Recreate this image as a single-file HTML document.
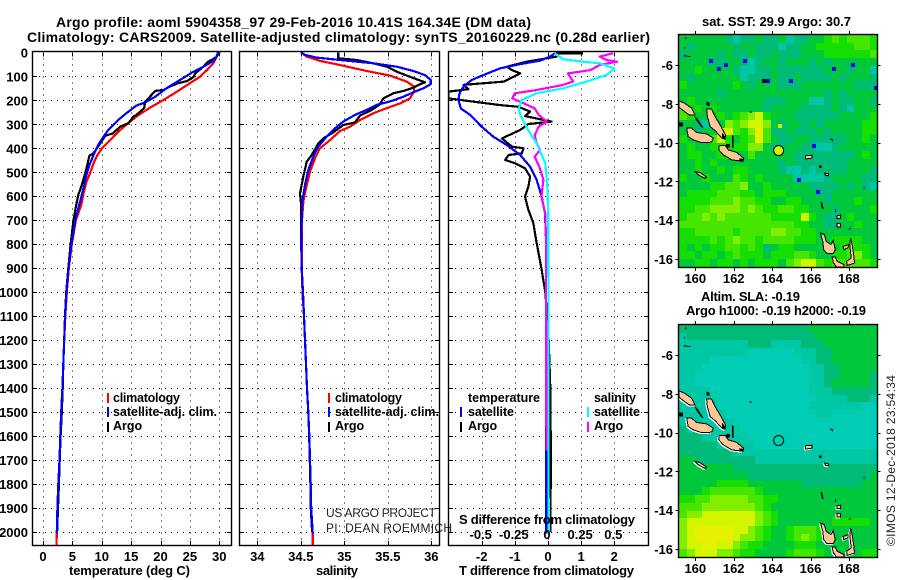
<!DOCTYPE html>
<html lang="en">
<head>
<meta charset="utf-8">
<title>Argo profile aoml 5904358_97</title>
<style>
html,body{margin:0;padding:0;background:#fff;}
#chart{display:block;width:900px;height:580px;}
text{font-family:"Liberation Sans",sans-serif;font-weight:bold;font-size:13px;fill:#000;}
.title{font-size:14px;}
.leg{font-size:12.5px;}
.thin{font-weight:normal;fill:#222;font-size:12px;}
</style>
</head>
<body>
<svg id="chart" xmlns="http://www.w3.org/2000/svg" width="900" height="580" viewBox="0 0 900 580">
  <rect x="0" y="0" width="900" height="580" fill="#fff"/>
  <defs>
    <clipPath id="clip-p1"><rect x="33" y="52" width="198" height="493"/></clipPath>
    <clipPath id="clip-p2"><rect x="240" y="52" width="199" height="493"/></clipPath>
    <clipPath id="clip-p3"><rect x="449" y="52" width="199" height="493"/></clipPath>
    <clipPath id="clip-m1"><rect x="679" y="35" width="198" height="232"/></clipPath>
    <clipPath id="clip-m2"><rect x="679" y="325" width="198" height="232"/></clipPath>
  </defs>
  <text class="title" x="56" y="27" textLength="475" lengthAdjust="spacing">Argo profile: aoml 5904358_97 29-Feb-2016 10.41S 164.34E (DM data)</text>
  <text class="title" x="27" y="42" textLength="623" lengthAdjust="spacing">Climatology: CARS2009. Satellite-adjusted climatology: synTS_20160229.nc (0.28d earlier)</text>
  <g id="layer-panels"></g>
  <g id="layer-maps"></g>

  <text x="69" y="575" textLength="121" lengthAdjust="spacing">temperature (deg C)</text>
  <text x="316" y="575" textLength="42" lengthAdjust="spacing">salinity</text>
  <text x="459" y="575" textLength="175" lengthAdjust="spacing">T difference from climatology</text>
  <text x="459" y="524" textLength="176" lengthAdjust="spacing">S difference from climatology</text>

  <rect x="107" y="393" width="2" height="10" fill="#ff0000"/>
  <rect x="107" y="407" width="2" height="10" fill="#0000ff"/>
  <rect x="107" y="422" width="2" height="10" fill="#000"/>
  <text class="leg" x="113" y="402" textLength="67" lengthAdjust="spacing">climatology</text>
  <text class="leg" x="113" y="416" textLength="104" lengthAdjust="spacing">satellite-adj. clim.</text>
  <text class="leg" x="113" y="430">Argo</text>

  <rect x="328" y="393" width="2" height="10" fill="#ff0000"/>
  <rect x="328" y="407" width="2" height="10" fill="#0000ff"/>
  <rect x="328" y="422" width="2" height="10" fill="#000"/>
  <text class="leg" x="335" y="402" textLength="67" lengthAdjust="spacing">climatology</text>
  <text class="leg" x="335" y="416" textLength="104" lengthAdjust="spacing">satellite-adj. clim.</text>
  <text class="leg" x="335" y="430">Argo</text>

  <text class="thin" x="326" y="517" textLength="110" lengthAdjust="spacing">US ARGO PROJECT</text>
  <text class="thin" x="326" y="532" textLength="126" lengthAdjust="spacing">PI: DEAN ROEMMICH</text>

  <text class="leg" x="468" y="402" textLength="72" lengthAdjust="spacing">temperature</text>
  <text class="leg" x="468" y="416" textLength="46" lengthAdjust="spacing">satellite</text>
  <text class="leg" x="468" y="430">Argo</text>
  <rect x="460" y="407" width="2" height="10" fill="#0000ff"/>
  <rect x="460" y="422" width="2" height="10" fill="#000"/>
  <text class="leg" x="594" y="402" textLength="42" lengthAdjust="spacing">salinity</text>
  <text class="leg" x="594" y="416" textLength="46" lengthAdjust="spacing">satellite</text>
  <text class="leg" x="594" y="430">Argo</text>
  <rect x="587" y="407" width="2" height="10" fill="#00ffff"/>
  <rect x="587" y="422" width="2" height="10" fill="#ff00ff"/>

  <text x="702" y="26" textLength="149" lengthAdjust="spacing">sat. SST: 29.9 Argo: 30.7</text>
  <text x="701" y="301" textLength="99" lengthAdjust="spacing">Altim. SLA: -0.19</text>
  <text x="686" y="315" textLength="180" lengthAdjust="spacing">Argo h1000: -0.19 h2000: -0.19</text>
  <text class="thin" transform="translate(895 546) rotate(-90)" x="0" y="0" textLength="171" lengthAdjust="spacing">©IMOS 12-Dec-2018 23:54:34</text>
</svg>

<script>
// ---- depth tick labels and axis tick values
const depthTicks = [0,100,200,300,400,500,600,700,800,900,1000,1100,1200,1300,1400,1500,1600,1700,1800,1900,2000];
const tempTicks = [0,5,10,15,20,25,30];
const salTicks = [34,34.5,35,35.5,36];
const salTickLabels = ['34','34.5','35','35.5','36'];
const tDiffTicks = [-2,-1,0,1,2];
const sDiffTicks = [-0.5,-0.25,0,0.25,0.5];
const sDiffTickLabels = ['-0.5','-0.25','0','0.25','0.5'];
const lonTicks = [160,162,164,166,168];
const latTicks = [-6,-8,-10,-12,-14,-16];

// ---- temperature profiles
const tempClimDepth = [0,11,46,74,102,129,164,199,231,268,296,324,366,400,435,463,505,539,588,637,700,800,900,1000,1100,1200,1300,1400,1500,1600,1700,1800,1900,2000,2053];
const tempClimValue = [29.8,29.7,29.0,27.9,26.7,25.0,22.8,20.5,18.2,15.9,14.5,13.1,11.4,10.0,9.1,8.6,8.0,7.4,6.9,6.5,5.6,4.9,4.4,4.05,3.8,3.6,3.45,3.3,3.1,2.95,2.8,2.6,2.45,2.35,2.3];
const tempSatDepth = [0,19,36,60,81,111,150,185,209,222,254,282,324,352,386,428,470,511,567,623,700,800,900,1000,1100,1200,1300,1400,1500,1600,1700,1800,1900,2005];
const tempSatValue = [29.8,29.5,29.0,27.3,25.6,23.6,21.0,19.1,17.4,15.9,14.2,12.8,11.1,10.3,9.4,8.6,7.9,7.4,6.9,6.3,5.5,4.85,4.35,4.0,3.75,3.6,3.45,3.3,3.1,2.95,2.8,2.6,2.45,2.4];
const tempArgoDepth = [0,19,28,39,60,88,104,120,129,143,157,161,185,205,233,261,268,296,310,338,348,393,421,431,484,553,595,630,700,800,900,1000,1100,1200,1300,1400,1500,1600,1700,1800,1900,2000];
const tempArgoValue = [30.1,29.5,29,28.1,27.3,25.9,25.6,24.5,23,21.6,20.5,19.1,18.2,17.4,17.2,15.9,15.4,14.5,13.1,11.9,10.6,9.4,8.6,7.9,7.4,6.6,6,5.7,5.2,4.7,4.3,3.95,3.75,3.6,3.45,3.35,3.2,3.0,2.85,2.7,2.55,2.4];

// ---- salinity profiles
const salClimDepth = [0,18,36,53,78,97,122,143,164,192,213,233,254,282,310,328,366,400,442,498,553,623,700,800,900,1000,1100,1200,1300,1400,1500,1600,1700,1800,1900,2000,2053];
const salClimValue = [34.502,34.568,34.721,34.951,35.257,35.525,35.717,35.801,35.801,35.755,35.64,35.487,35.334,35.18,35.065,34.951,34.836,34.721,34.663,34.606,34.568,34.529,34.514,34.51,34.51,34.52,34.537,34.548,34.56,34.571,34.586,34.598,34.606,34.614,34.62,34.637,34.637];
const salSatDepth = [0,11,22,32,46,60,78,95,115,133,150,164,185,205,219,240,261,289,317,352,393,435,491,553,623,700,800,900,1000,1100,1200,1300,1400,1500,1600,1700,1800,1900,2005];
const salSatValue = [34.502,34.548,34.682,34.951,35.334,35.602,35.794,35.928,35.993,35.993,35.909,35.813,35.679,35.525,35.372,35.257,35.123,34.988,34.893,34.797,34.701,34.644,34.586,34.548,34.517,34.51,34.505,34.51,34.525,34.537,34.548,34.56,34.571,34.586,34.598,34.606,34.614,34.62,34.637];
const salArgoDepth = [0,25,32,46,60,81,102,125,133,147,161,171,192,219,240,264,292,303,334,359,380,428,456,518,588,630,700,800,900,1000,1100,1200,1300,1400,1500,1600,1700,1800,1900,2000];
const salArgoValue = [34.931,34.931,35.142,35.334,35.487,35.602,35.755,35.928,35.87,35.794,35.679,35.564,35.449,35.403,35.315,35.18,35.123,34.988,34.874,34.759,34.701,34.625,34.568,34.529,34.491,34.502,34.505,34.505,34.51,34.525,34.537,34.548,34.56,34.571,34.586,34.596,34.604,34.61,34.615,34.63];

// ---- differences from climatology
const tDiffSatDepth = [4,18,35,49,67,95,115,143,171,199,234,261,310,352,387,428,477,532,602,671,782,2005];
const tDiffSatValue = [0.21,0.06,-0.24,-0.84,-1.45,-1.95,-2.3,-2.55,-2.67,-2.7,-2.63,-2.35,-2,-1.65,-1.24,-0.84,-0.54,-0.34,-0.19,-0.09,-0.06,-0.05];
const tDiffArgoDepth = [4,4,18,39,60,74,88,109,122,136,154,164,192,206,220,227,247,266,289,299,324,359,393,400,421,428,449,463,484,518,560,602,657,713,782,900,1000,1100,1200,1400,1600,1800,2000];
const tDiffArgoValue = [1.06,0.26,0.26,-0.64,-1.24,-1.09,-0.84,-1.14,-1.34,-2.55,-2.4,-3.0,-3.0,-2.24,-1.44,-0.89,-0.54,-0.69,0.11,-0.59,-0.84,-1.39,-1.09,-0.74,-0.79,-1.19,-1.29,-0.99,-0.69,-0.54,-0.59,-0.69,-0.59,-0.44,-0.36,-0.2,-0.08,-0.02,0.02,0.07,0.08,0.08,0.07];
const sDiffSatDepth = [4,29,39,46,67,95,122,150,171,199,234,261,324,380,463,560,671,782,2005];
const sDiffSatValue = [0.05,0.115,0.265,0.39,0.5,0.44,0.29,0.115,-0.085,-0.2,-0.22,-0.21,-0.15,-0.085,-0.02,-0.005,0.0025,0.0025,0.005];
const sDiffArgoDepth = [4,18,32,39,53,74,88,122,136,157,171,192,206,234,261,289,310,345,380,407,435,484,532,602,671,782,1660];
const sDiffArgoValue = [0.49,0.39,0.44,0.52,0.39,0.32,0.15,0.19,0.115,-0.085,-0.25,-0.27,-0.21,-0.1,-0.07,-0.01,-0.07,-0.1,-0.085,-0.06,-0.1,-0.06,-0.035,-0.05,-0.02,-0.015,-0.012];

// ---- map grids: one digit per block (west to east, north to south)
const sstGrid = [
"33333321223223122334545554",
"32333332332221223344444554",
"23333232232232223334444445",
"33332233212332333232333333",
"33433332112232222223332331",
"32333333122232232222323332",
"43333334323332223333333222",
"33333233333333333332323333",
"34333333333222333112322332",
"53434333333233332222321333",
"54333434567433322222233334",
"33211365677632332323333344",
"33233775468522322232333344",
"43335743458532233222223343",
"34334444466322332211233333",
"34433443353333322222222343",
"33434333333332322222223333",
"33433434433332112122223332",
"43343335434333311112333322",
"33334455633433333222232321",
"34444555443444333322333333",
"44445556554433443332333433",
"44556666565445544333233334",
"45565655555544447432234333",
"55555555555555544332233433",
"44555554555566554433333333",
"44445456554555544433444433",
"43434455454234433333345443",
"44344345444344455433445643",
"33443443434443567754555554"
];
const slaGrid = [
"22222222222222222333333333",
"12222222222222222233333333",
"11111111122211112223333333",
"11111111100000011122333333",
"11110000000000001122333333",
"11100000000000000112233333",
"11000000000000000112233332",
"11000000000000000112333332",
"11110000000000000111222222",
"11111000000000000011112221",
"11111000000000000111111100",
"11111100000000000011000000",
"11111110000000000000000000",
"21111111000000000000000000",
"22211111100000000000000000",
"22222111110000000000000000",
"22222221111111111111111111",
"33222222221111111111111111",
"33333332222222222222222222",
"33333333322222222222222223",
"33333444433333332222222233",
"33345555554333333333333333",
"44556666655443333333333333",
"55566666665433333333333333",
"56677777776543333333333333",
"67777777776543333333444443",
"67888887765433455543333333",
"67888887665433456543333333",
"67788776544333344433333333",
"56777665443333455543333344"
];
const gridLonWest = 159.167;
const gridLonEast = 169.48;
const gridLatNorth = -4.45;
const gridLatSouth = -16.41;
const cellPalette = ['#00cdb4','#00c8a4','#00bb78','#00c83c','#14df00','#46e600','#82ee00','#d2f500','#e6f000','#f0a000'];

// ---- isolated SST cells: lon, lat, colour class
const sstSpotLon = [160.82,161.6,161.24,162.6,163.78,165.0,167.2,168.19,169.39,165.38,166.38,166.2,163.6,164.39];
const sstSpotLat = [-5.81,-6,-6.2,-5.81,-6.82,-6.82,-6.2,-6,-7.2,-11.95,-12.57,-10.2,-6.82,-9.17];
const sstSpotKind = ['blue','blue','blue','blue','blue','blue','blue','blue','blue','blue','blue','blue','black','yellow'];

// ---- profile location
const argoLon = 164.34;
const argoLat = -10.41;

// ---- coastlines in lon/lat
const landPolys = [
 [[159.16,-7.85],[159.46,-7.98],[159.81,-8.23],[159.98,-8.57],[159.69,-8.57],[159.37,-8.35],[159.16,-8.18]],
 [[160.59,-8.28],[160.85,-8.28],[161.03,-8.66],[161.29,-9.09],[161.57,-9.6],[161.55,-9.83],[161.38,-9.77],[161.03,-9.38],[160.77,-9.17],[160.63,-8.66]],
 [[159.55,-9.26],[159.81,-9.26],[160.07,-9.48],[160.59,-9.55],[160.94,-9.77],[160.85,-9.98],[160.33,-10],[159.9,-9.86],[159.63,-9.69]],
 [[161.25,-10.15],[161.55,-10.15],[161.72,-10.37],[162.16,-10.51],[162.51,-10.8],[162.47,-10.96],[161.9,-10.89],[161.46,-10.63],[161.22,-10.37]],
 [[165.73,-10.68],[166.08,-10.65],[166.08,-10.8],[165.73,-10.85]],
 [[159.98,-11.49],[160.24,-11.54],[160.59,-11.78],[160.51,-11.85],[160.16,-11.66]],
 [[166.74,-11.57],[166.95,-11.61],[166.95,-11.71],[166.78,-11.69]],
 [[167.39,-13.77],[167.56,-13.74],[167.56,-13.91],[167.39,-13.91]],
 [[167.39,-14.18],[167.56,-14.18],[167.56,-14.35],[167.39,-14.35]],
 [[166.52,-14.66],[166.73,-14.75],[166.81,-15.09],[167.07,-15.26],[167.18,-15.04],[167.29,-15.52],[167.18,-15.72],[166.86,-15.72],[166.69,-15.52],[166.64,-15.09]],
 [[167.13,-15.9],[167.3,-15.9],[167.39,-16.12],[167.74,-16.29],[167.74,-16.42],[167.35,-16.42],[167.18,-16.17]],
 [[167.7,-15.35],[168,-15.26],[167.94,-15.43],[167.73,-15.52]],
 [[168.08,-14.92],[168.17,-15.26],[168.26,-15.86],[168.29,-16.21],[167.91,-16.33],[167.88,-16.12],[168.12,-15.95],[168.05,-15.35]]
];
const reefPolys = [
 [[159.95,-8.6],[160.1,-8.74],[160.33,-9.09],[160.45,-9.26],[160.3,-9.2],[160.02,-8.8]],
 [[161.4,-9.5],[161.57,-9.69],[161.55,-9.83],[161.38,-9.72]],
 [[161.92,-9.6],[162,-9.69],[162,-10.29],[161.92,-10.29]],
 [[160.59,-7.89],[160.73,-7.94],[160.73,-8.11],[160.59,-8.08]],
 [[159.16,-8.97],[159.37,-8.97],[159.37,-9.17],[159.16,-9.17]],
 [[162.82,-8.4],[162.96,-8.4],[162.96,-8.45],[162.82,-8.45]],
 [[167.04,-9.77],[167.18,-9.85],[167.18,-9.95],[167.04,-9.85]],
 [[166.43,-11.18],[166.57,-11.18],[166.57,-11.32],[166.43,-11.32]],
 [[166.52,-13.05],[166.6,-13.05],[166.69,-13.43],[166.6,-13.43]],
 [[167.28,-13.46],[167.33,-13.46],[167.33,-13.58],[167.28,-13.58]],
 [[168,-14.4],[168.08,-14.4],[168.08,-14.49],[168,-14.49]],
 [[168.77,-12.26],[168.81,-12.26],[168.81,-12.36],[168.77,-12.36]],
 [[159.46,-4.58],[159.54,-4.58],[159.54,-4.65],[159.46,-4.65]],
 [[159.41,-5.06],[159.46,-5.06],[159.46,-5.14],[159.41,-5.14]],
 [[159.41,-5.49],[159.76,-5.55],[159.76,-5.6],[159.41,-5.55]],
 [[161.6,-10.08],[161.81,-10.08],[161.81,-10.25],[161.6,-10.25]],
 [[162.3,-10.8],[162.53,-10.85],[162.5,-11.0],[162.3,-10.95]]
];

const SVGNS = 'http://www.w3.org/2000/svg';
const panelsLayer = document.getElementById('layer-panels');
const mapsLayer = document.getElementById('layer-maps');

function make(tag, attrs, parent){
  const el = document.createElementNS(SVGNS, tag);
  for (const k in attrs) el.setAttribute(k, attrs[k]);
  parent.appendChild(el);
  return el;
}

// axis functions
const depthY = d => 52.3 + d * 0.2399;
const tempX = t => 43 + t * 5.875;
const salX = s => 257.3 + (s - 34) * 87;
const tDiffX = t => 548 + t * 33.15;
const sDiffX = s => 548 + s * 132.6;
const lonX = lon => 695.3 + (lon - 160) * 19.2;
const latY = (lat, top) => top + 30 + (-6 - lat) * 19.4;

function drawTickLabel(parent, name, str, x, y, anchor){
  const t = make('text', {x:x, y:y, 'text-anchor':anchor}, parent);
  
  
  t.textContent = str;
}

function drawPanel(id, left, right, xFn, ticks){
  const top = 52.3, bottom = 545;
  const g = make('g', {}, panelsLayer);
  
  
  depthTicks.slice(1).forEach(d => {
    const y = Math.round(depthY(d));
    const grid = make('line', {x1:left, x2:right, y1:y+0.5, y2:y+0.5, stroke:'#000', 'stroke-width':1, 'stroke-dasharray':'1 5', 'shape-rendering':'crispEdges'}, g);
    
    
    const tickL = make('line', {x1:left, x2:left+4, y1:y+0.5, y2:y+0.5, stroke:'#000', 'stroke-width':1, 'shape-rendering':'crispEdges'}, g);
    
    
    const tickR = make('line', {x1:right-4, x2:right, y1:y+0.5, y2:y+0.5, stroke:'#000', 'stroke-width':1, 'shape-rendering':'crispEdges'}, g);
    
    
  });
  ticks.forEach(v => {
    const x = Math.round(xFn(v));
    const grid = make('line', {x1:x+0.5, x2:x+0.5, y1:top, y2:bottom, stroke:'#000', 'stroke-width':1, 'stroke-dasharray':'1 5', 'shape-rendering':'crispEdges'}, g);
    
    
    const tickB = make('line', {x1:x+0.5, x2:x+0.5, y1:bottom-4, y2:bottom, stroke:'#000', 'stroke-width':1, 'shape-rendering':'crispEdges'}, g);
    
    
    const tickT = make('line', {x1:x+0.5, x2:x+0.5, y1:top, y2:top+4, stroke:'#000', 'stroke-width':1, 'shape-rendering':'crispEdges'}, g);
    
    
  });
}

function drawFrame(name, left, top, right, bottom, parent){
  const f = make('rect', {x:left-0.5, y:top-0.5, width:right-left+1, height:bottom-top+1, fill:'none', stroke:'#000', 'stroke-width':1.4}, parent);
  
  
}

function drawSeries(name, xFn, depths, values, color, clip){
  const pts = depths.map((d, i) => xFn(values[i]).toFixed(1) + ',' + depthY(d).toFixed(1)).join(' ');
  const line = make('polyline', {points:pts, fill:'none', stroke:color, 'stroke-width':2.2, 'stroke-linejoin':'round', 'shape-rendering':'crispEdges', 'clip-path':'url(#' + clip + ')'}, panelsLayer);
  
  
}

// panel 1: temperature
drawPanel('temperature', 33, 231, tempX, tempTicks);
drawSeries('temperature-climatology-line', tempX, tempClimDepth, tempClimValue, '#ff0000', 'clip-p1');
drawSeries('temperature-argo-line', tempX, tempArgoDepth, tempArgoValue, '#000000', 'clip-p1');
drawSeries('temperature-satellite-line', tempX, tempSatDepth, tempSatValue, '#0000ff', 'clip-p1');
drawFrame('temperature-frame', 33, 52, 231, 545, panelsLayer);

// panel 2: salinity
drawPanel('salinity', 240, 439, salX, salTicks);
drawSeries('salinity-climatology-line', salX, salClimDepth, salClimValue, '#ff0000', 'clip-p2');
drawSeries('salinity-argo-line', salX, salArgoDepth, salArgoValue, '#000000', 'clip-p2');
drawSeries('salinity-satellite-line', salX, salSatDepth, salSatValue, '#0000ff', 'clip-p2');
drawFrame('salinity-frame', 240, 52, 439, 545, panelsLayer);

// panel 3: differences
drawPanel('difference', 449, 648, tDiffX, tDiffTicks);
drawSeries('t-diff-argo-line', tDiffX, tDiffArgoDepth, tDiffArgoValue, '#000000', 'clip-p3');
drawSeries('t-diff-satellite-line', tDiffX, tDiffSatDepth, tDiffSatValue, '#0000ff', 'clip-p3');
drawSeries('s-diff-argo-line', sDiffX, sDiffArgoDepth, sDiffArgoValue, '#ff00ff', 'clip-p3');
drawSeries('s-diff-satellite-line', sDiffX, sDiffSatDepth, sDiffSatValue, '#00ffff', 'clip-p3');
drawFrame('difference-frame', 449, 52, 648, 545, panelsLayer);

// axis labels
depthTicks.forEach(d => drawTickLabel(panelsLayer, 'depth-tick-label', String(d), 28, depthY(d) + 5, 'end'));
tempTicks.forEach(t => drawTickLabel(panelsLayer, 'temperature-tick-label', String(t), tempX(t), 561, 'middle'));
salTicks.forEach((s, i) => drawTickLabel(panelsLayer, 'salinity-tick-label', salTickLabels[i], salX(s), 561, 'middle'));
tDiffTicks.forEach(t => drawTickLabel(panelsLayer, 't-diff-tick-label', String(t), tDiffX(t), 561, 'middle'));
sDiffTicks.forEach((s, i) => drawTickLabel(panelsLayer, 's-diff-tick-label', sDiffTickLabels[i], sDiffX(s) - 1, 539, 'middle'));

function drawMap(name, grid, top, clip){
  const g = make('g', {'clip-path':'url(#' + clip + ')'}, mapsLayer);
  
  
  const rows = grid.length, cols = grid[0].length;
  const lonStep = (gridLonEast - gridLonWest) / cols;
  const latStep = (gridLatNorth - gridLatSouth) / rows;
  grid.forEach((row, r) => {
    for (let c = 0; c < cols; c++){
      const x0 = Math.round(lonX(gridLonWest + c * lonStep));
      const x1 = Math.round(lonX(gridLonWest + (c + 1) * lonStep));
      const y0 = Math.round(latY(gridLatNorth - r * latStep, top));
      const y1 = Math.round(latY(gridLatNorth - (r + 1) * latStep, top));
      const cell = make('rect', {x:x0, y:y0, width:x1-x0, height:y1-y0, fill:cellPalette[+row[c]], 'shape-rendering':'crispEdges'}, g);
      
      
    }
  });
  return g;
}

function polyPoints(poly, top, dx, dy){
  return poly.map(p => (lonX(p[0]) + dx).toFixed(1) + ',' + (latY(p[1], top) + dy).toFixed(1)).join(' ');
}

function drawCoast(g, top, halo){
  landPolys.forEach(poly => {
    if (halo){
      const h = make('polygon', {points:polyPoints(poly, top, -1, 1), fill:'#fff', stroke:'#fff', 'stroke-width':1, 'shape-rendering':'crispEdges'}, g);
      
      
    }
    const land = make('polygon', {points:polyPoints(poly, top, 0, 0), fill:'#ffc896', stroke:'#000', 'stroke-width':1, 'shape-rendering':'crispEdges'}, g);
    
    
  });
  reefPolys.forEach(poly => {
    const reef = make('polygon', {points:polyPoints(poly, top, 0, 0), fill:'#000', 'shape-rendering':'crispEdges'}, g);
    
    
  });
}

function drawMapAxes(top, bottom){
  const left = 679.3, right = 877.3;
  lonTicks.forEach(lon => {
    const x = Math.round(lonX(lon)) + 0.5;
    const t1 = make('line', {x1:x, x2:x, y1:top-4, y2:top, stroke:'#000', 'stroke-width':1, 'shape-rendering':'crispEdges'}, mapsLayer);
    
    
    const t2 = make('line', {x1:x, x2:x, y1:bottom, y2:bottom+4, stroke:'#000', 'stroke-width':1, 'shape-rendering':'crispEdges'}, mapsLayer);
    
    
    drawTickLabel(mapsLayer, 'longitude-label', String(lon), lonX(lon), bottom + 16, 'middle');
  });
  latTicks.forEach(lat => {
    const y = Math.round(latY(lat, top)) + 0.5;
    const t1 = make('line', {x1:left-4, x2:left, y1:y, y2:y, stroke:'#000', 'stroke-width':1, 'shape-rendering':'crispEdges'}, mapsLayer);
    
    
    const t2 = make('line', {x1:right, x2:right+3, y1:y, y2:y, stroke:'#000', 'stroke-width':1, 'shape-rendering':'crispEdges'}, mapsLayer);
    
    
    drawTickLabel(mapsLayer, 'latitude-label', String(lat), 673, latY(lat, top) + 5, 'end');
  });
  drawFrame('map-frame', 679, top, 877, bottom, mapsLayer);
}

// SST map
const sstMap = drawMap('sst', sstGrid, 35, 'clip-m1');
const spotColors = {blue:'#0000ff', black:'#000000', yellow:'#d2f500'};
sstSpotLon.forEach((lon, i) => {
  const s = make('rect', {x:Math.round(lonX(lon) - 2), y:Math.round(latY(sstSpotLat[i], 35) - 2), width:4, height:4, fill:spotColors[sstSpotKind[i]], 'shape-rendering':'crispEdges'}, sstMap);
  
  
});
drawCoast(sstMap, 35, false);
const sstMarker = make('circle', {cx:lonX(argoLon), cy:latY(argoLat, 35), r:5, fill:'#d2f500', stroke:'#000', 'stroke-width':1}, sstMap);


drawMapAxes(35, 267);

// SLA map
const slaMap = drawMap('sla', slaGrid, 325, 'clip-m2');
drawCoast(slaMap, 325, true);
const slaMarker = make('circle', {cx:lonX(argoLon), cy:latY(argoLat, 325), r:5, fill:'none', stroke:'#000', 'stroke-width':1}, slaMap);


drawMapAxes(325, 557);
</script>
</body>
</html>
